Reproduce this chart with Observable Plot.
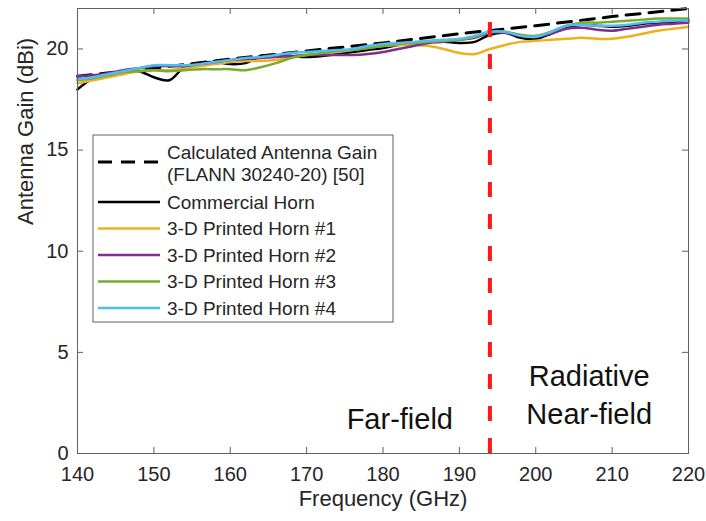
<!DOCTYPE html>
<html><head><meta charset="utf-8">
<script src="https://cdn.jsdelivr.net/npm/d3@7"></script>
<script src="https://cdn.jsdelivr.net/npm/@observablehq/plot@0.6"></script>
<style>
body{margin:0;background:#fff;}
#chart svg{font-family:"Liberation Sans",Arial,sans-serif;}
</style></head><body><div id="chart"></div>
<script>
// ---- data ----
const freq = [140,142,144,146,148,150,152,154,156,158,160,162,164,166,168,170,172,174,176,178,180,182,184,186,188,190,192,194,196,198,200,202,204,206,208,210,212,214,216,218,220];
const calcFreq = [140,150,160,170,180,190,200,210,220];
const calcGain = [18.65,19.05,19.5,19.9,20.3,20.75,21.15,21.6,22.0];
const commercial = [18.0,18.55,18.75,18.85,18.9,18.6,18.45,19.1,19.3,19.35,19.25,19.3,19.65,19.7,19.65,19.6,19.65,19.75,19.85,19.95,20.05,20.2,20.3,20.35,20.35,20.3,20.35,20.7,20.8,20.55,20.5,20.75,21.05,21.2,21.15,21.1,21.15,21.25,21.3,21.35,21.4];
const horn1 = [18.3,18.45,18.6,18.75,18.9,18.95,18.95,19.05,19.15,19.25,19.35,19.4,19.4,19.45,19.6,19.7,19.75,19.85,19.95,20.05,20.15,20.2,20.2,20.15,20.0,19.8,19.75,20.0,20.2,20.35,20.4,20.45,20.5,20.55,20.5,20.5,20.6,20.75,20.9,21.0,21.1];
const horn2 = [18.65,18.7,18.8,18.95,19.05,19.15,19.15,19.15,19.25,19.35,19.45,19.5,19.55,19.6,19.65,19.7,19.7,19.7,19.7,19.75,19.85,20.0,20.15,20.3,20.35,20.45,20.55,20.8,20.8,20.65,20.6,20.75,21.0,21.05,20.95,20.9,21.0,21.1,21.2,21.25,21.3];
const horn3 = [18.45,18.55,18.7,18.85,18.9,18.95,18.9,18.95,19.0,19.0,19.0,18.95,19.1,19.3,19.55,19.7,19.8,19.9,19.95,20.05,20.15,20.25,20.3,20.35,20.4,20.45,20.6,20.85,20.85,20.7,20.65,20.85,21.15,21.3,21.3,21.35,21.4,21.45,21.5,21.5,21.5];
const horn4 = [18.5,18.6,18.75,18.9,19.05,19.2,19.2,19.2,19.25,19.35,19.45,19.55,19.6,19.7,19.8,19.85,19.9,19.95,20.0,20.15,20.25,20.3,20.35,20.4,20.45,20.5,20.65,20.85,20.85,20.65,20.6,20.85,21.15,21.2,21.15,21.15,21.2,21.3,21.35,21.4,21.4];
const seriesNames = ["Commercial Horn","3-D Printed Horn #1","3-D Printed Horn #2","3-D Printed Horn #3","3-D Printed Horn #4"];
const seriesColors = ["#000000","#EDB120","#7E2F8E","#77AC30","#4DBEEE"];
const calcName = ["Calculated Antenna Gain","(FLANN 30240-20) [50]"];
const xTicks = [140,150,160,170,180,190,200,210,220];
const yTicks = [0,5,10,15,20];
const boundaryFreq = [194];
const regionText = ["Far-field","Radiative\nNear-field"];
const regionX = [182.2,207];
const regionY = [1.8,3.0];
const xLabel = "Frequency (GHz)";
const yLabel = "Antenna Gain (dBi)";

// ---- build tables ----
const seriesValues = [commercial,horn1,horn2,horn3,horn4];
const rows = [];
seriesValues.forEach((vals,i)=>vals.forEach((g,j)=>rows.push({series:seriesNames[i],f:freq[j],g})));
const calcRows = calcFreq.map((f,i)=>({f,g:calcGain[i]}));
const regions = regionText.map((t,i)=>({t,x:regionX[i],y:regionY[i]}));

const W = 706, H = 521, mL = 77, mR = 18, mT = 8, mB = 68;
const fw = W-mL-mR, fh = H-mT-mB, tk = 6;
const axisColor = "#606060";
const chart = Plot.plot({
  width:W, height:H,
  marginLeft:mL, marginRight:mR, marginTop:mT, marginBottom:mB,
  x:{domain:[140,220]},
  y:{domain:[0,22]},
  color:{domain:seriesNames, range:seriesColors},
  style:{fontFamily:'"Liberation Sans",Arial,sans-serif', background:"white", color:"#262626"},
  marks:[
    Plot.line(calcRows,{x:"f",y:"g",stroke:"black",strokeWidth:3,strokeDasharray:"14,9"}),
    Plot.line(rows,{x:"f",y:"g",z:"series",stroke:"series",strokeWidth:2.5,curve:"catmull-rom"}),
    Plot.ruleX(boundaryFreq,{y1:0,y2:22,stroke:"#FF1A1A",strokeWidth:4,strokeDasharray:"15,17"}),
    Plot.frame({stroke:axisColor}),
    // inward ticks on all four sides
    Plot.ruleX(xTicks,{insetTop:fh-tk,stroke:axisColor}),
    Plot.ruleX(xTicks,{insetBottom:fh-tk,stroke:axisColor}),
    Plot.ruleY(yTicks,{insetRight:fw-tk,stroke:axisColor}),
    Plot.ruleY(yTicks,{insetLeft:fw-tk,stroke:axisColor}),
    Plot.axisX(xTicks,{anchor:"bottom",tickSize:0,tickPadding:13,stroke:"none",fill:"#262626",fontSize:20,label:null}),
    Plot.axisY(yTicks,{anchor:"left",tickSize:0,tickPadding:9,stroke:"none",fill:"#262626",fontSize:20,label:null}),
    Plot.text([xLabel],{frameAnchor:"bottom",dy:52,fontSize:22,fill:"#262626"}),
    Plot.text([yLabel],{frameAnchor:"left",dx:-52,dy:-6,rotate:-90,fontSize:22,fill:"#262626"}),
    Plot.text(regions,{x:"x",y:"y",text:"t",fontSize:29,lineHeight:1.3,fill:"#111"})
  ]
});
document.getElementById("chart").appendChild(chart);

// ---- legend (inside plot, top-left) ----
const svg = d3.select(chart);
const lg = svg.append("g").attr("font-family",'"Liberation Sans",Arial,sans-serif').attr("font-size",19).attr("fill","#262626").attr("text-anchor","start");
const box = {x:93,y:135,w:300,h:187};
lg.append("rect").attr("x",box.x).attr("y",box.y).attr("width",box.w).attr("height",box.h).attr("fill","white").attr("stroke",axisColor);
const sx1 = box.x+5, sx2 = box.x+67, tx = box.x+74;
const calcY = box.y+27;
lg.append("line").attr("x1",sx1).attr("x2",sx2).attr("y1",calcY).attr("y2",calcY).attr("stroke","black").attr("stroke-width",3).attr("stroke-dasharray","14,9");
calcName.forEach((t,i)=>lg.append("text").attr("x",tx).attr("y",calcY-10+i*22).attr("dy","0.35em").text(t));
const rowStart = box.y+67, rowStep = 26.5;
seriesNames.forEach((n,i)=>{
  const y = rowStart+i*rowStep;
  lg.append("line").attr("x1",sx1).attr("x2",sx2).attr("y1",y).attr("y2",y).attr("stroke",seriesColors[i]).attr("stroke-width",2.5);
  lg.append("text").attr("x",tx).attr("y",y).attr("dy","0.35em").text(n);
});
</script></body></html>
